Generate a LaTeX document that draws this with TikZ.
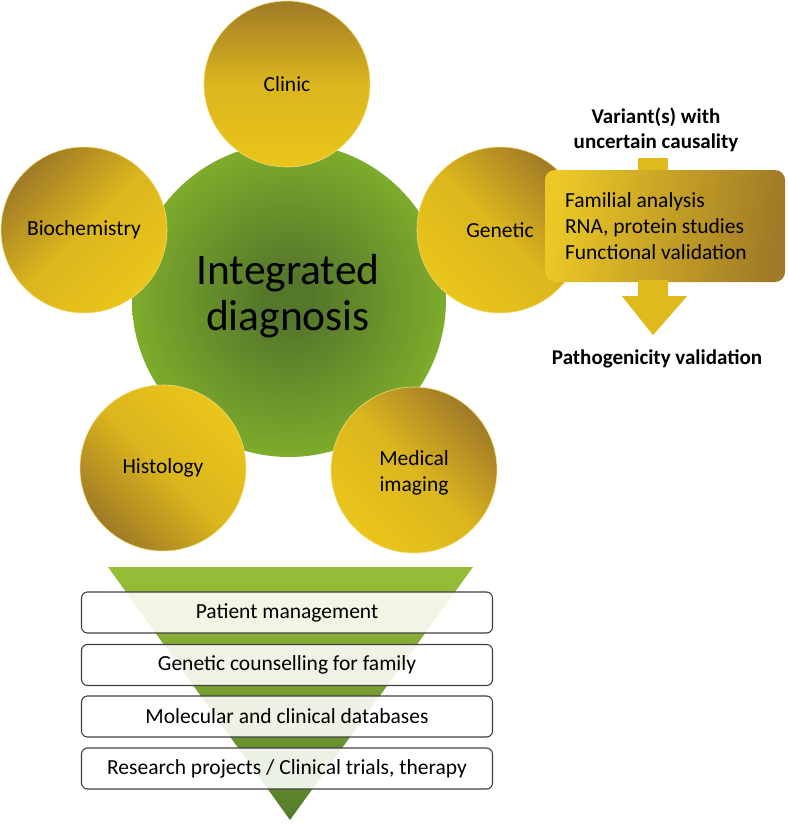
\documentclass[tikz,border=0pt]{standalone}
\usepackage{fontspec}
\setmainfont{Carlito}
\usepackage{xcolor}
\usepackage{tikz}
\usetikzlibrary{calc}

\definecolor{goldD}{HTML}{A07A26}
\definecolor{goldL}{HTML}{EAC51B}
\definecolor{hubD}{HTML}{55772B}
\definecolor{hubL}{HTML}{87B82B}
\definecolor{funD}{HTML}{98BF38}
\definecolor{funL}{HTML}{557D2A}
\pgfdeclareradialshading{hubglow}{\pgfpoint{0bp}{0bp}}{%
  color(0bp)=(hubD); color(4bp)=(hubD); color(30bp)=(hubL); color(100bp)=(hubL)}

\begin{document}
\begin{tikzpicture}[
        x=1pt, y=-1pt, font=\fontsize{21.5}{26}\selectfont,
        every node/.style={align=center, inner sep=3pt},
        hub/.style   ={circle, minimum size=314pt, shading=hubglow},
        topic/.style ={circle, minimum size=166pt, top color=goldD,
                       bottom color=goldL, middle color=goldL!80!goldD,
                       draw=goldL!60!white, line width=0.6pt},
        vbox/.style  ={rectangle, rounded corners=10pt, minimum width=240pt,
                       minimum height=112pt, left color=goldL!95!white,
                       right color=goldD, shading angle=80, align=flush left,
                       text width=200pt,
                       font=\fontsize{21.5}{26}\selectfont},
        blockarrow/.style={fill=goldL!85!goldD},
        note/.style  ={font=\fontsize{21}{25}\selectfont\bfseries},
        layer/.style ={rectangle, rounded corners=6pt, draw=black!75,
                       line width=1.1pt, fill=white, fill opacity=0.88,
                       text opacity=1, minimum width=411pt, minimum height=41pt},
    ]
        \useasboundingbox (0,0) rectangle (787,824);

        % ===================== Centro =====================
        \node[hub] (hub) at (289,300) {};
        \node[font=\fontsize{43.5}{46}\selectfont] (hubtxt) at (288,296) {Integrated\\diagnosis};

        % ===================== Disciplinas =====================
        \node[topic, shading angle=0]   (cli) at (287, 84)  {Clinic};
        \node[topic, shading angle=45]  (bio) at (84, 230)  {Biochemistry};
        \node[topic, shading angle=-45] (gen) at (500, 230) {Genetic};
        \node[topic, shading angle=135] (his) at (163, 468) {Histology};
        \node[topic, shading angle=-45] (med) at (414, 470) {\\[-6pt]Medical\\imaging};

        % ===================== Validacion de variantes =====================
        \node[note] (var) at (656,130) {Variant(s) with\\uncertain causality};
        \coordinate (stub) at (653,158);
        \fill[blockarrow] ($(stub)+(-15,0)$) rectangle ($(stub)+(15,16)$);
        \node[vbox] (fv) at (665,226)
            {Familial analysis\\RNA, protein studies\\Functional validation};
        \coordinate (ah) at ($(fv.south)+(-12,0)$);
        \fill[blockarrow] ($(ah)+(-15,-2)$) -- ($(ah)+(15,-2)$) -- ($(ah)+(15,14)$)
            -- ($(ah)+(34,14)$) -- ($(ah)+(0,53)$) -- ($(ah)+(-31,14)$)
            -- ($(ah)+(-15,14)$) -- cycle;
        \node[note] (pat) at (657,359) {Pathogenicity validation};

        % ===================== Embudo =====================
        \coordinate (fl) at (108,567);
        \coordinate (fr) at (473,567);
        \coordinate (ft) at (290,820);
        \shade[top color=funD, bottom color=funL] (fl) -- (fr) -- (ft) -- cycle;

        \node[layer] (l1) at (287,612.5) {Patient management};
        \node[layer] (l2) at (287,665)   {Genetic counselling for family};
        \node[layer] (l3) at (287,716.5) {Molecular and clinical databases};
        \node[layer] (l4) at (287,768.5) {Research projects / Clinical trials, therapy};
    \end{tikzpicture}
\end{document}
